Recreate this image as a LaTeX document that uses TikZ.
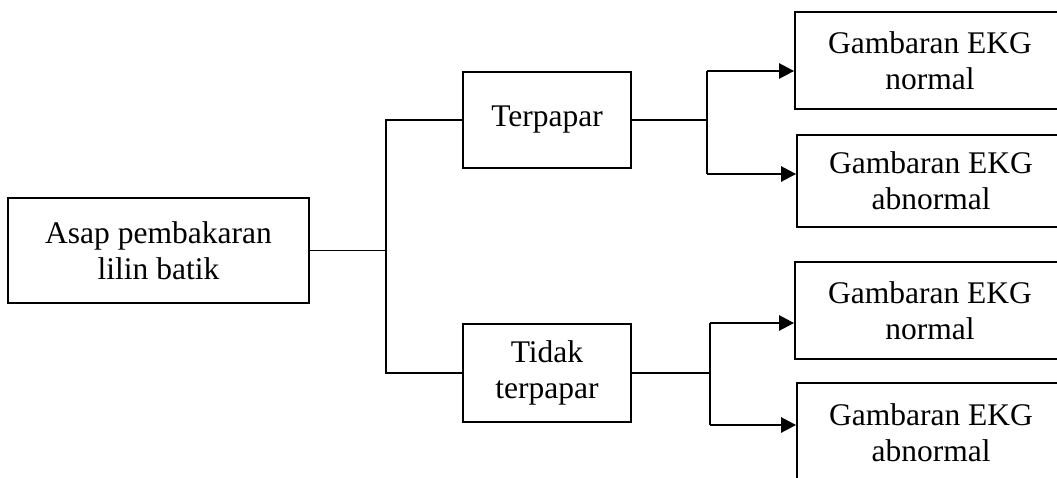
\documentclass[tikz,border=0pt]{standalone}
\usepackage{fontspec}
\setmainfont{Liberation Serif}
\usetikzlibrary{arrows.meta}
\begin{document}
\begin{tikzpicture}[x=1pt,y=-1pt,
  box/.style={draw, line width=1.8pt, inner sep=0pt, align=center,
    font=\fontsize{31.5}{36}\selectfont},
  link/.style={line width=1.8pt},
  arr/.style={line width=2.6pt, -{Triangle[length=15pt,width=15pt]}}]
\useasboundingbox (0,0) rectangle (1057,477);
\clip (0,0) rectangle (1057,477);

% source box
\node[box, minimum width=301pt, minimum height=105pt] (asap) at (158.5,250.5)
  {Asap pembakaran\\lilin batik};

% exposure groups
\node[box, minimum width=168pt, minimum height=96pt] (terpapar) at (547,120)
  {Terpapar};
\node[box, minimum width=168pt, minimum height=98pt] (tidak) at (547,373)
  {Tidak\\terpapar};

% ECG outcomes
\node[box, minimum width=270pt, minimum height=97pt] (o1) at (930,60.5)
  {Gambaran EKG\\normal};
\node[box, minimum width=268pt, minimum height=92pt] (o2) at (931,181)
  {Gambaran EKG\\abnormal};
\node[box, minimum width=270pt, minimum height=97pt] (o3) at (930,310.5)
  {Gambaran EKG\\normal};
\node[box, minimum width=268pt, minimum height=99pt] (o4) at (931,432.5)
  {Gambaran EKG\\abnormal};

% split from the source
\coordinate (j1) at (386,250.5);
\draw[link] (asap.east) -- (j1);
\draw[link] (terpapar.west) -| (j1) |- (tidak.west);

% split after "Terpapar"
\coordinate (a1) at (707,71);
\coordinate (a2) at (707,174);
\draw[link] (terpapar.east) -- (terpapar.east -| a1);
\draw[link] (a1) -- (a2);
\draw[arr] (a1) -- (a1 -| o1.west);
\draw[arr] (a2) -- (a2 -| o2.west);

% split after "Tidak terpapar"
\coordinate (b1) at (710,323);
\coordinate (b2) at (710,425);
\draw[link] (tidak.east) -- (tidak.east -| b1);
\draw[link] (b1) -- (b2);
\draw[arr] (b1) -- (b1 -| o3.west);
\draw[arr] (b2) -- (b2 -| o4.west);
\end{tikzpicture}
\end{document}
